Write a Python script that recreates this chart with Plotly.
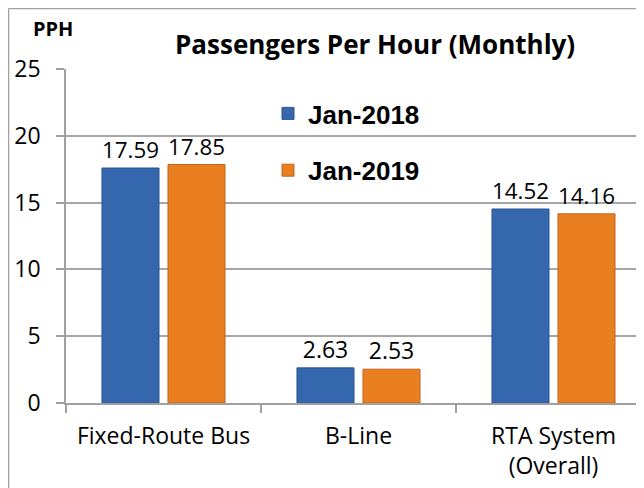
import plotly.graph_objects as go

categories = ["Fixed-Route Bus", "B-Line", "RTA System<br>(Overall)"]
jan_2018 = [17.59, 2.63, 14.52]
jan_2019 = [17.85, 2.53, 14.16]
series_names = ["Jan-2018", "Jan-2019"]
y_ticks = [0, 5, 10, 15, 20, 25]

# page body adds an 8px offset; work in screen px and convert
OFF = 8
W, H = 644 - OFF, 488 - OFF
L, T = 66 - OFF, 69 - OFF
plot_bottom = 403 - OFF
R, B = 0, H - plot_bottom
plot_w = W - L - R
plot_h = H - T - B
cat_px = 195.0
x_max = -0.5 + plot_w / cat_px

FONT = "Open Sans, sans-serif"
label_font = dict(family=FONT, size=23, color="#000000")

fig = go.Figure()
fig.add_trace(go.Bar(
    x=categories, y=jan_2018, name=series_names[0], legendgroup="a",
    marker=dict(color="#3467AE", line=dict(color="#2A5592", width=1)),
    text=[f"{v:.2f}" for v in jan_2018], textposition="outside",
    textfont=label_font, cliponaxis=False,
))
fig.add_trace(go.Bar(
    x=categories, y=jan_2019, name=series_names[1], legendgroup="b",
    marker=dict(color="#EA7F22", line=dict(color="#C2641A", width=1)),
    text=[f"{v:.2f}" for v in jan_2019], textposition="outside",
    textfont=label_font, cliponaxis=False,
))

def px_x(sx):
    return (sx - OFF - L) / plot_w

def px_y(sy):
    return 1 - (sy - OFF - T) / plot_h

fig.update_layout(
    width=W, height=H,
    margin=dict(l=L, r=R, t=T, b=B, autoexpand=False),
    paper_bgcolor="white", plot_bgcolor="white",
    barmode="group", bargap=0.323, bargroupgap=0.136,
    font=dict(family=FONT, size=23, color="#000000"),
    showlegend=True,
    legend=dict(
        x=px_x(268), y=px_y(90), xanchor="left", yanchor="top",
        bgcolor="rgba(0,0,0,0)", tracegroupgap=20,
        font=dict(family="Liberation Sans, Arial, sans-serif", size=26, color="#000000", weight="bold"),
    ),
    annotations=[
        dict(text="<b>Passengers Per Hour (Monthly)</b>", xref="paper", yref="paper",
             x=px_x(375), y=px_y(44), xanchor="center", yanchor="middle", showarrow=False,
             font=dict(family=FONT, size=26, color="#000000")),
        dict(text="<b>PPH</b>", xref="paper", yref="paper",
             x=px_x(31), y=px_y(29), xanchor="left", yanchor="middle", showarrow=False,
             font=dict(family=FONT, size=20, color="#000000")),
    ],
    shapes=[
        dict(type="line", xref="paper", yref="paper", x0=px_x(8.5), x1=px_x(8.5),
             y0=px_y(8.5), y1=px_y(500), line=dict(color="#A0A0A0", width=1.5)),
        dict(type="line", xref="paper", yref="paper", x0=px_x(8.5), x1=px_x(660),
             y0=px_y(8.5), y1=px_y(8.5), line=dict(color="#A0A0A0", width=1.5)),
    ],
)

fig.update_xaxes(
    range=[-0.5, x_max], showgrid=False, showline=True, linecolor="#A0A0A0", linewidth=1.5,
    ticks="outside", tickson="boundaries", ticklen=8, tickcolor="#A0A0A0", tickwidth=1.5,
    tickfont=dict(family=FONT, size=23, color="#000000"), ticklabelstandoff=12,
    fixedrange=True,
)
fig.update_yaxes(
    range=[0, 25], tickvals=y_ticks, ticktext=[str(v) for v in y_ticks],
    showgrid=True, gridcolor="#A6A6A6", gridwidth=1.5,
    showline=True, linecolor="#A0A0A0", linewidth=1.5,
    ticks="outside", ticklen=8, tickcolor="#A0A0A0", tickwidth=1.5,
    tickfont=dict(family=FONT, size=23, color="#000000"), ticklabelstandoff=11,
    zeroline=False, fixedrange=True,
)

fig.write_html("out.html")
